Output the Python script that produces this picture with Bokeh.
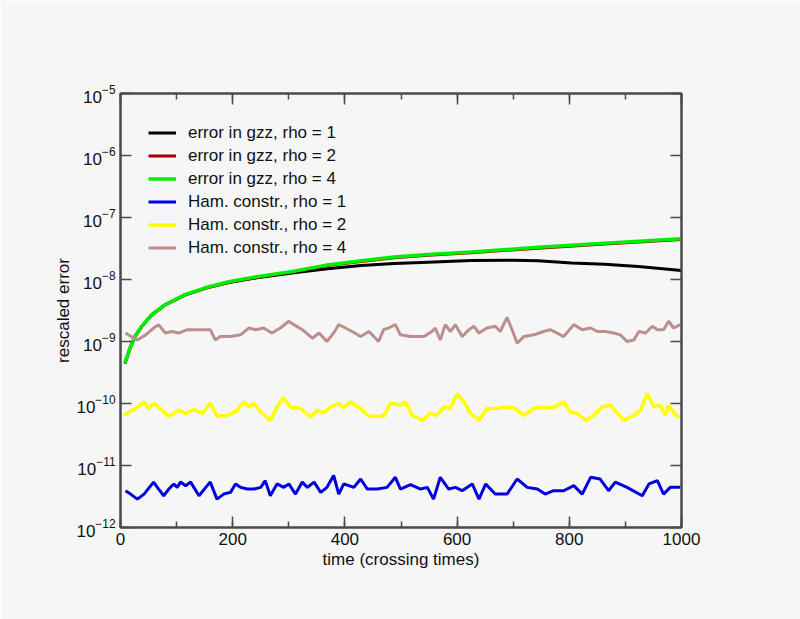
from bokeh.plotting import figure
from bokeh.models import Range1d, LinearAxis, LogAxis, SingleIntervalTicker, Legend, LegendItem
from bokeh.embed import file_html
from bokeh.resources import INLINE

# ---- data ----
t_gzz4 = [8, 17, 26, 38, 56, 80, 115, 151, 193, 240, 309, 369, 429, 488, 548, 625, 744, 863, 1000]
gzz_rho4 = [4.5e-10, 7.9e-10, 1.22e-9, 1.77e-9, 2.72e-9, 3.95e-9, 5.7e-9, 7.35e-9, 9.2e-9, 1.1e-8,
            1.36e-8, 1.72e-8, 2.0e-8, 2.3e-8, 2.53e-8, 2.78e-8, 3.3e-8, 3.84e-8, 4.55e-8]
gzz_rho2 = [4.4e-10, 7.7e-10, 1.2e-9, 1.74e-9, 2.68e-9, 3.9e-9, 5.6e-9, 7.2e-9, 9.0e-9, 1.07e-8,
            1.33e-8, 1.68e-8, 1.95e-8, 2.24e-8, 2.46e-8, 2.7e-8, 3.2e-8, 3.72e-8, 4.4e-8]
t_gzz1 = [8, 17, 26, 38, 56, 80, 115, 151, 193, 240, 309, 369, 429, 488, 548, 625, 700, 744, 804, 863, 923, 1000]
gzz_rho1 = [4.5e-10, 7.9e-10, 1.22e-9, 1.77e-9, 2.72e-9, 3.95e-9, 5.65e-9, 7.25e-9, 8.9e-9, 1.06e-8,
            1.28e-8, 1.49e-8, 1.68e-8, 1.81e-8, 1.9e-8, 2.02e-8, 2.05e-8, 2.0e-8, 1.85e-8, 1.76e-8, 1.62e-8, 1.4e-8]

t_ham1 = [9, 18, 30, 42, 59, 68, 77, 86, 95, 101, 107, 116, 125, 140, 152, 160, 172, 184, 196, 205,
          214, 226, 238, 250, 258, 267, 279, 291, 300, 312, 324, 333, 345, 357, 368, 380, 389, 398, 416, 428,
          440, 458, 475, 490, 499, 517, 535, 547, 558, 570, 585, 597, 609, 627, 639, 651, 668, 689, 707, 725,
          743, 757, 772, 790, 808, 823, 838, 855, 870, 882, 903, 930, 942, 957, 968, 980, 998]
ham_rho1 = [3.92e-12, 3.46e-12, 2.87e-12, 3.46e-12, 5.4e-12, 4.17e-12, 3.25e-12, 4.17e-12, 5.04e-12, 4.44e-12,
            5.4e-12, 4.73e-12, 5.4e-12, 3.25e-12, 4.44e-12, 5.4e-12, 2.87e-12, 3.46e-12, 3.68e-12, 5.04e-12,
            4.44e-12, 4.17e-12, 4.17e-12, 4.44e-12, 5.7e-12, 3.25e-12, 5.04e-12, 4.44e-12, 5.04e-12, 3.46e-12,
            5.4e-12, 4.44e-12, 5.4e-12, 3.68e-12, 4.44e-12, 6.9e-12, 3.46e-12, 5.04e-12, 4.44e-12, 6.05e-12,
            4.17e-12, 4.17e-12, 4.44e-12, 6.45e-12, 4.17e-12, 4.9e-12, 4.17e-12, 4.44e-12, 2.87e-12, 6.45e-12,
            4.17e-12, 4.44e-12, 3.92e-12, 5.04e-12, 2.87e-12, 5.04e-12, 3.46e-12, 3.46e-12, 6.05e-12, 4.44e-12,
            4.17e-12, 3.46e-12, 3.92e-12, 3.92e-12, 4.73e-12, 3.46e-12, 6.45e-12, 6.05e-12, 3.92e-12, 5.4e-12,
            4.44e-12, 3.25e-12, 5.04e-12, 5.7e-12, 3.46e-12, 4.44e-12, 4.44e-12]

t_ham2 = [6, 27, 42, 50, 59, 71, 86, 104, 116, 131, 146, 160, 172, 190, 205, 220, 229, 238, 250, 267,
          279, 290, 303, 321, 339, 351, 362, 374, 389, 398, 410, 428, 443, 469, 481, 499, 508, 520, 538, 552,
          564, 576, 588, 600, 612, 624, 639, 653, 671, 689, 704, 719, 737, 754, 772, 790, 802, 814, 829, 844,
          858, 873, 897, 915, 927, 939, 951, 962, 971, 977, 989, 998]
ham_rho2 = [6.45e-11, 8.3e-11, 1.06e-10, 8.3e-11, 1.0e-10, 8.3e-11, 6.2e-11, 7.8e-11, 6.9e-11, 8.0e-11,
            6.9e-11, 1.02e-10, 6.2e-11, 6.45e-11, 7.3e-11, 1.06e-10, 8.8e-11, 1.0e-10, 7.3e-11, 5.35e-11,
            8.8e-11, 1.25e-10, 8.8e-11, 8.3e-11, 6.07e-11, 7.8e-11, 7.05e-11, 8.8e-11, 1.0e-10, 8.5e-11,
            1.06e-10, 8.3e-11, 6.2e-11, 6.2e-11, 1.02e-10, 9.4e-11, 1.06e-10, 6.45e-11, 5.35e-11, 6.9e-11,
            6.45e-11, 8.8e-11, 8.3e-11, 1.45e-10, 1.06e-10, 6.9e-11, 5.35e-11, 8.3e-11, 8.3e-11, 8.8e-11,
            8.3e-11, 6.45e-11, 8.3e-11, 8.8e-11, 8.6e-11, 1.06e-10, 7.3e-11, 6.9e-11, 5.35e-11, 6.45e-11,
            8.8e-11, 9.4e-11, 5.35e-11, 6.45e-11, 7.8e-11, 1.45e-10, 8.8e-11, 9.4e-11, 6.45e-11, 9.4e-11,
            6.45e-11, 6.07e-11]

t_ham4 = [9, 24, 30, 45, 59, 68, 80, 92, 104, 119, 140, 160, 169, 178, 196, 214, 229, 241, 255, 270,
          285, 300, 309, 324, 342, 354, 368, 380, 389, 401, 413, 428, 443, 460, 469, 478, 490, 499, 517, 541,
          555, 561, 570, 579, 588, 597, 609, 621, 630, 639, 653, 668, 677, 689, 698, 707, 719, 737, 754, 766,
          778, 790, 808, 823, 838, 850, 864, 879, 891, 903, 915, 924, 936, 948, 957, 968, 977, 986, 998]
ham_rho4 = [1.37e-9, 1.13e-9, 1.06e-9, 1.28e-9, 1.65e-9, 1.87e-9, 1.37e-9, 1.45e-9, 1.37e-9, 1.55e-9,
            1.55e-9, 1.55e-9, 1.06e-9, 1.2e-9, 1.2e-9, 1.28e-9, 1.65e-9, 1.55e-9, 1.65e-9, 1.37e-9,
            1.65e-9, 2.12e-9, 1.87e-9, 1.55e-9, 1.13e-9, 1.37e-9, 1.0e-9, 1.37e-9, 1.87e-9, 1.65e-9,
            1.45e-9, 1.2e-9, 1.45e-9, 1.0e-9, 1.55e-9, 1.65e-9, 1.87e-9, 1.28e-9, 1.2e-9, 1.2e-9,
            1.45e-9, 1.65e-9, 1.06e-9, 1.87e-9, 1.45e-9, 1.87e-9, 1.2e-9, 1.55e-9, 1.76e-9, 1.37e-9,
            1.65e-9, 1.76e-9, 1.45e-9, 2.45e-9, 1.55e-9, 9.4e-10, 1.2e-9, 1.28e-9, 1.45e-9, 1.55e-9,
            1.37e-9, 1.2e-9, 1.87e-9, 1.55e-9, 1.65e-9, 1.45e-9, 1.45e-9, 1.37e-9, 1.28e-9, 1.0e-9,
            1.06e-9, 1.45e-9, 1.37e-9, 1.76e-9, 1.55e-9, 1.55e-9, 2.12e-9, 1.65e-9, 1.87e-9]

labels = ["error in gzz, rho = 1", "error in gzz, rho = 2", "error in gzz, rho = 4",
          "Ham. constr., rho = 1", "Ham. constr., rho = 2", "Ham. constr., rho = 4"]
colors = ["#000000", "#a00000", "#00ee00", "#0000e0", "#ffff00", "#bc8f8f"]

FONT = "Liberation Sans"
AX = "#4a4a4a"
BG = "#f6f6f6"

p = figure(width=800, height=619, output_backend="svg", toolbar_location=None,
           y_axis_type="log", x_range=Range1d(0, 1000), y_range=Range1d(1e-12, 1e-5),
           min_border_left=120, min_border_right=119, min_border_top=93, min_border_bottom=92,
           frame_width=561, frame_height=434)
p.background_fill_color = BG
p.border_fill_color = BG
p.grid.visible = False
p.outline_line_color = AX
p.outline_line_width = 2

bottom_axis = p.below[0]
left_axis = p.left[0]
top_axis = LinearAxis()
right_axis = LogAxis()
p.add_layout(top_axis, "above")
p.add_layout(right_axis, "right")

for ax in (bottom_axis, top_axis):
    ax.ticker = SingleIntervalTicker(interval=200, num_minor_ticks=2)
for ax in (bottom_axis, top_axis, left_axis, right_axis):
    ax.axis_line_color = AX
    ax.axis_line_width = 2
    ax.major_tick_line_color = AX
    ax.major_tick_line_width = 1.5
    ax.major_tick_in = 11
    ax.major_tick_out = 0
    ax.minor_tick_line_color = AX
    ax.minor_tick_line_width = 1.5
    ax.minor_tick_in = 6
    ax.minor_tick_out = 0
    ax.major_label_text_font = FONT
    ax.major_label_text_font_size = "17px"
    ax.major_label_text_color = "#111111"
    ax.axis_label_text_font = FONT
    ax.axis_label_text_font_size = "17px"
    ax.axis_label_text_font_style = "normal"
    ax.axis_label_text_color = "#111111"
for ax in (left_axis, right_axis):
    ax.minor_tick_line_color = None
top_axis.major_label_text_color = None
right_axis.major_label_text_color = None

bottom_axis.axis_label = "time (crossing times)"
bottom_axis.axis_label_standoff = 2
left_axis.axis_label = "rescaled error"
left_axis.axis_label_standoff = 0
left_axis.major_label_standoff = 5

r1 = p.line(t_gzz1, gzz_rho1, line_color=colors[0], line_width=3)
r2 = p.line(t_gzz4, gzz_rho2, line_color=colors[1], line_width=3)
r3 = p.line(t_gzz4, gzz_rho4, line_color=colors[2], line_width=3.5)
r4 = p.line(t_ham1, ham_rho1, line_color=colors[3], line_width=3)
r5 = p.line(t_ham2, ham_rho2, line_color=colors[4], line_width=3.5)
r6 = p.line(t_ham4, ham_rho4, line_color=colors[5], line_width=3)

legend = Legend(items=[LegendItem(label=l, renderers=[r]) for l, r in zip(labels, [r1, r2, r3, r4, r5, r6])],
                location="top_left", margin=28, padding=10, spacing=0,
                glyph_width=28, glyph_height=23, label_height=23, label_standoff=12,
                label_text_font=FONT, label_text_font_size="17px", label_text_color="#111111",
                background_fill_alpha=0, border_line_color=None)
p.add_layout(legend)

open("out.html", "w").write(file_html(p, INLINE))
